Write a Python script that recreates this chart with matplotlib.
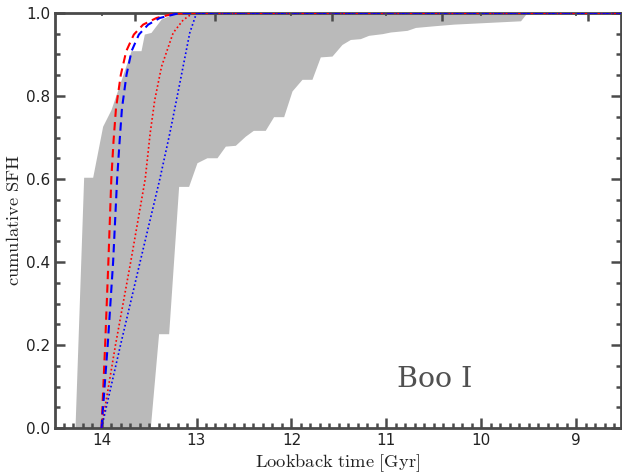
import matplotlib
matplotlib.use("Agg")
import matplotlib.pyplot as plt
from matplotlib.ticker import MultipleLocator, FixedLocator, NullFormatter, FormatStrFormatter

plt.rcParams['mathtext.fontset'] = 'cm'

# Gray band: older (upper) envelope, read from bottom to top
upper_env_t = [14.274, 14.183, 14.088, 13.983, 13.895, 13.684, 13.579, 13.544, 13.474, 13.368, 13.21]
upper_env_y = [0.0, 0.603, 0.603, 0.726, 0.766, 0.908, 0.908, 0.948, 0.952, 0.984, 1.0]

# Gray band: younger (lower) envelope, read from bottom to top
lower_env_t = [13.481, 13.394, 13.288, 13.183, 13.078, 12.990, 12.885, 12.779, 12.691, 12.586,
               12.481, 12.397, 12.271, 12.183, 12.077, 11.989, 11.884, 11.779, 11.691, 11.568,
               11.463, 11.375, 11.270, 11.182, 11.040, 10.953, 10.777, 10.689, 10.496, 10.285,
               9.934, 9.583, 9.513]
lower_env_y = [0.0, 0.226, 0.226, 0.581, 0.581, 0.638, 0.650, 0.650, 0.678, 0.680,
               0.702, 0.716, 0.716, 0.749, 0.749, 0.811, 0.839, 0.839, 0.893, 0.895,
               0.923, 0.935, 0.937, 0.945, 0.949, 0.953, 0.957, 0.964, 0.968, 0.972,
               0.976, 0.980, 1.0]

# Model curves
red_dash_t = [14.0, 13.962, 13.928, 13.897, 13.874, 13.848, 13.797, 13.740, 13.66, 13.562, 13.421, 13.246, 13.07, 8.0]
red_dash_y = [0.0, 0.2, 0.4, 0.6, 0.69, 0.77, 0.851, 0.908, 0.948, 0.972, 0.988, 0.998, 1.0, 1.0]

blue_dash_t = [14.0, 13.935, 13.878, 13.836, 13.810, 13.785, 13.737, 13.684, 13.607, 13.509, 13.386, 13.176, 8.0]
blue_dash_y = [0.0, 0.2, 0.4, 0.6, 0.69, 0.77, 0.851, 0.908, 0.948, 0.972, 0.988, 1.0, 1.0]

red_dot_t = [14.0, 13.853, 13.693, 13.540, 13.488, 13.44, 13.368, 13.246, 13.141, 13.036, 8.0]
red_dot_y = [0.0, 0.2, 0.4, 0.6, 0.71, 0.79, 0.871, 0.952, 0.983, 1.0, 1.0]

blue_dot_t = [14.0, 13.80, 13.594, 13.386, 13.281, 13.211, 13.141, 13.071, 13.0, 8.0]
blue_dot_y = [0.0, 0.2, 0.4, 0.6, 0.71, 0.79, 0.871, 0.952, 1.0, 1.0]

x_major = [14, 13, 12, 11, 10, 9]
top_major = [13.65, 12.80, 11.57, 10.42, 8.88]
top_minor = [14, 12, 11, 10, 9]

spine_col = '#4a4a4a'

fig = plt.figure(figsize=(6.22, 4.75), dpi=100)
ax = fig.add_axes([55/622, 1-428/475, (621-55)/622, (428-13)/475])

band_t = upper_env_t + lower_env_t[::-1]
band_y = upper_env_y + lower_env_y[::-1]
ax.fill(band_t, band_y, color='#bababa', lw=0, zorder=1)

ax.plot(red_dash_t, red_dash_y, color='red', ls=(0, (4, 2.5)), lw=1.5, zorder=3)
ax.plot(blue_dash_t, blue_dash_y, color='blue', ls=(0, (4, 2.5)), lw=1.5, zorder=3)
ax.plot(red_dot_t, red_dot_y, color='red', ls=(0, (1, 1.5)), lw=1.2, zorder=3)
ax.plot(blue_dot_t, blue_dot_y, color='blue', ls=(0, (1, 1.5)), lw=1.2, zorder=3)

ax.set_xlim(14.49, 8.53)
ax.set_ylim(0, 1.0)
ax.xaxis.set_major_locator(FixedLocator(x_major))
ax.xaxis.set_minor_locator(MultipleLocator(0.1))
ax.yaxis.set_major_locator(MultipleLocator(0.2))
ax.yaxis.set_minor_locator(MultipleLocator(0.05))
ax.yaxis.set_major_formatter(FormatStrFormatter('%.1f'))

for s in ax.spines.values():
    s.set_color(spine_col)
    s.set_linewidth(2.0)
    s.set_zorder(2)

ax.tick_params(axis='both', which='major', direction='in', length=7, width=1.8,
               color=spine_col, labelsize=11, labelcolor='#222222')
ax.tick_params(axis='both', which='minor', direction='in', length=3.5, width=1.8, color=spine_col)
ax.tick_params(axis='y', which='both', left=True, right=True)
ax.tick_params(axis='x', which='both', top=False, bottom=True)

ax2 = ax.twiny()
ax2.set_xlim(ax.get_xlim())
ax2.xaxis.set_major_locator(FixedLocator(top_major))
ax2.xaxis.set_minor_locator(FixedLocator(top_minor))
ax2.xaxis.set_major_formatter(NullFormatter())
ax2.tick_params(axis='x', which='major', direction='in', length=6, width=1.8, color=spine_col)
ax2.tick_params(axis='x', which='minor', direction='in', length=2, width=1.2, color=spine_col)
for s in ax2.spines.values():
    s.set_visible(False)

ax.set_xlabel(r'$\mathrm{Lookback\ time\ [Gyr]}$', fontsize=13.3, color='#222222', labelpad=3)
ax.set_ylabel(r'$\mathrm{cumulative\ SFH}$', fontsize=13.3, color='#222222', labelpad=2)

ax.text(10.49, 0.099, 'Boo I', fontsize=20.5, family='DejaVu Serif', color='#505050',
        ha='center', va='baseline')

fig.savefig('out.png', dpi=100)
